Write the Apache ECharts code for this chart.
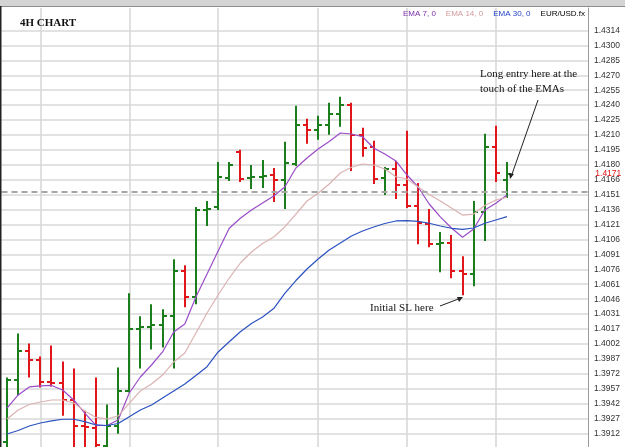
<!DOCTYPE html>
<html>
<head>
<meta charset="utf-8">
<script src="https://cdn.jsdelivr.net/npm/echarts@6/dist/echarts.min.js"></script>
<style>
  html, body { margin: 0; padding: 0; background: #fff; }
  #chart { width: 625px; height: 447px; }
</style>
</head>
<body>
<div id="chart"></div>
<script>
// 4H bars, EUR/USD
var opens  = [1.3904, 1.3966, 1.3994, 1.3985, 1.3964, 1.3963, 1.3946, 1.3920, 1.3918, 1.3900, 1.3920, 1.3955, 1.4016, 1.4018, 1.4020, 1.4029, 1.4074, 1.4048, 1.4135, 1.4138, 1.4167, 1.4193, 1.4167, 1.4168, 1.4170, 1.4165, 1.4181, 1.4220, 1.4215, 1.4220, 1.4231, 1.4240, 1.4210, 1.4198, 1.4167, 1.4176, 1.4160, 1.4139, 1.4121, 1.4101, 1.4102, 1.4074, 1.4071, 1.4133, 1.4198, 1.4165];
var highs  = [1.3967, 1.4011, 1.4001, 1.3988, 1.3999, 1.3983, 1.3976, 1.3934, 1.3967, 1.3940, 1.3977, 1.4051, 1.4028, 1.4040, 1.4035, 1.4085, 1.4079, 1.4137, 1.4143, 1.4182, 1.4182, 1.4194, 1.4179, 1.4184, 1.4176, 1.4202, 1.4238, 1.4225, 1.4228, 1.4241, 1.4247, 1.4241, 1.4216, 1.4203, 1.4177, 1.4183, 1.4213, 1.4161, 1.4135, 1.4112, 1.4109, 1.4088, 1.4143, 1.4210, 1.4218, 1.4182];
var lows   = [1.3894, 1.3951, 1.3969, 1.3959, 1.3960, 1.3931, 1.3894, 1.3894, 1.3891, 1.3891, 1.3913, 1.3954, 1.3978, 1.3997, 1.3999, 1.3978, 1.4039, 1.4042, 1.4120, 1.4136, 1.4165, 1.4164, 1.4157, 1.4158, 1.4144, 1.4137, 1.4180, 1.4202, 1.4206, 1.4211, 1.4219, 1.4175, 1.4189, 1.4162, 1.4151, 1.4147, 1.4138, 1.4102, 1.4099, 1.4074, 1.4068, 1.4051, 1.4060, 1.4105, 1.4164, 1.4148];
var closes = [1.3966, 1.3994, 1.3985, 1.3964, 1.3963, 1.3946, 1.3920, 1.3919, 1.3901, 1.3920, 1.3955, 1.4016, 1.4018, 1.4020, 1.4029, 1.4074, 1.4048, 1.4135, 1.4136, 1.4168, 1.4180, 1.4166, 1.4168, 1.4169, 1.4165, 1.4182, 1.4220, 1.4215, 1.4220, 1.4231, 1.4240, 1.4210, 1.4197, 1.4166, 1.4176, 1.4160, 1.4139, 1.4122, 1.4101, 1.4102, 1.4074, 1.4071, 1.4133, 1.4198, 1.4172, 1.4171];

// moving averages
var ema7  = [1.39376, 1.39506, 1.39586, 1.39596, 1.39601, 1.39556, 1.39456, 1.39326, 1.39202, 1.39202, 1.39257, 1.39526, 1.39685, 1.39805, 1.39935, 1.40134, 1.40214, 1.40483, 1.40712, 1.40942, 1.41168, 1.41268, 1.41350, 1.41420, 1.41490, 1.41580, 1.41769, 1.41869, 1.41958, 1.42033, 1.42118, 1.42108, 1.42081, 1.41968, 1.41909, 1.41839, 1.41699, 1.41580, 1.41410, 1.41281, 1.41171, 1.41078, 1.41161, 1.41350, 1.41417, 1.41500];
var ema14 = [1.39267, 1.39356, 1.39411, 1.39436, 1.39456, 1.39456, 1.39426, 1.39346, 1.39282, 1.39267, 1.39297, 1.39423, 1.39546, 1.39616, 1.39705, 1.39835, 1.39925, 1.40124, 1.40323, 1.40503, 1.40672, 1.40822, 1.40932, 1.41016, 1.41081, 1.41181, 1.41310, 1.41440, 1.41517, 1.41610, 1.41719, 1.41776, 1.41809, 1.41799, 1.41759, 1.41682, 1.41659, 1.41580, 1.41505, 1.41440, 1.41370, 1.41300, 1.41310, 1.41395, 1.41450, 1.41477];
var ema30 = [1.39117, 1.39152, 1.39197, 1.39227, 1.39247, 1.39264, 1.39264, 1.39240, 1.39207, 1.39202, 1.39222, 1.39289, 1.39356, 1.39406, 1.39476, 1.39546, 1.39616, 1.39700, 1.39788, 1.39935, 1.40037, 1.40137, 1.40219, 1.40284, 1.40368, 1.40520, 1.40647, 1.40762, 1.40862, 1.40952, 1.41021, 1.41091, 1.41141, 1.41181, 1.41216, 1.41241, 1.41244, 1.41236, 1.41218, 1.41191, 1.41168, 1.41158, 1.41171, 1.41218, 1.41251, 1.41284];

// price scale labels, bottom to top
var priceTicks = ['1.3912', '1.3927', '1.3942', '1.3957', '1.3972', '1.3987', '1.4002', '1.4017', '1.4031', '1.4046', '1.4061', '1.4076', '1.4091', '1.4106', '1.4121', '1.4136', '1.4151', '1.4166', '1.4180', '1.4195', '1.4210', '1.4225', '1.4240', '1.4255', '1.4270', '1.4285', '1.4300', '1.4314'];

var bidPrice = 1.4171;
var hLinePrice = 1.4153;
var dayStartBars = [3, 11, 19, 28, 36, 44];

// 46 bars + empty space on the right of the chart
var slotCount = 53;
var bars = [];
for (var i = 0; i < slotCount; i++) bars.push('bar' + i);

var ohlc = opens.map(function (o, i) {
  return [i, o, highs[i], lows[i], closes[i]];
});

var myChart = echarts.init(document.getElementById('chart'));

function renderOhlc(params, api) {
  var idx = api.value(0);
  var o = api.coord([idx, api.value(1)]);
  var h = api.coord([idx, api.value(2)]);
  var l = api.coord([idx, api.value(3)]);
  var c = api.coord([idx, api.value(4)]);
  var x = Math.round(h[0]);
  var w = 4;
  var color = api.value(4) >= api.value(1) ? '#1c7d1c' : '#e0161b';
  var st = { stroke: color, lineWidth: 2 };
  return {
    type: 'group',
    children: [
      { type: 'line', shape: { x1: x, y1: h[1] - 1, x2: x, y2: l[1] + 1 }, style: st },
      { type: 'line', shape: { x1: x - w, y1: Math.round(o[1]), x2: x, y2: Math.round(o[1]) }, style: st },
      { type: 'line', shape: { x1: x, y1: Math.round(c[1]), x2: x + w, y2: Math.round(c[1]) }, style: st }
    ]
  };
}

var serif = 'Liberation Serif';
var sans = 'Liberation Sans';

var option = {
  animation: false,
  backgroundColor: '#ffffff',
  title: {
    text: '4H CHART',
    left: 15,
    top: 13,
    textStyle: { fontFamily: serif, fontSize: 11, fontWeight: 'bold', color: '#111' }
  },
  legend: {
    right: 35,
    top: 5,
    itemWidth: 0,
    itemHeight: 0,
    itemGap: 5,
    icon: 'none',
    textStyle: { fontFamily: sans, fontSize: 8 },
    data: [
      { name: 'EMA 7, 0', textStyle: { color: '#7d2fb0' } },
      { name: 'EMA 14, 0', textStyle: { color: '#d39a9a' } },
      { name: 'EMA 30, 0', textStyle: { color: '#1f3fc4' } },
      { name: 'EUR/USD.fx', textStyle: { color: '#000' } }
    ]
  },
  grid: [
    { left: 1.5, right: 34.7, top: 8, bottom: 0 },
    { left: 1.5, right: 37, top: 30.5, bottom: 13.5 }
  ],
  xAxis: [
    {
      type: 'category',
      gridIndex: 0,
      data: bars,
      boundaryGap: true,
      axisLine: { show: false },
      axisTick: { show: false },
      axisLabel: { show: false },
      splitLine: {
        show: true,
        alignWithLabel: true,
        interval: function (idx) { return dayStartBars.indexOf(idx) >= 0; },
        lineStyle: { color: '#d6d6d6', width: 1.5 }
      }
    },
    { type: 'value', gridIndex: 1, show: false, min: 0, max: 1 }
  ],
  yAxis: [
    {
      type: 'value',
      gridIndex: 0,
      position: 'right',
      offset: -2.3,
      min: 1.389874,
      max: 1.433642,
      axisLine: { show: true, lineStyle: { color: '#9a9a9a', width: 1 } },
      axisTick: { show: false },
      axisLabel: { show: false },
      splitLine: { show: false }
    },
    {
      type: 'category',
      gridIndex: 1,
      position: 'right',
      data: priceTicks,
      boundaryGap: false,
      axisLine: { show: false },
      axisTick: { show: false },
      axisLabel: {
        show: true,
        interval: 0,
        margin: 6,
        padding: [5, 0, 0, 0],
        fontFamily: sans,
        fontSize: 8.5,
        color: '#333'
      },
      splitLine: { show: true, interval: 0, lineStyle: { color: '#d9d9d9', width: 1.5 } }
    }
  ],
  series: [
    {
      name: 'EUR/USD.fx',
      type: 'custom',
      xAxisIndex: 0,
      yAxisIndex: 0,
      renderItem: renderOhlc,
      encode: { x: 0, y: [1, 2, 3, 4] },
      data: ohlc,
      z: 3
    },
    {
      name: 'EMA 7, 0', type: 'line', data: ema7, symbol: 'none', z: 4,
      lineStyle: { color: '#9a4cc8', width: 1.2 }, itemStyle: { color: '#9a4cc8' }
    },
    {
      name: 'EMA 14, 0', type: 'line', data: ema14, symbol: 'none', z: 4,
      lineStyle: { color: '#dbb2b2', width: 1.2 }, itemStyle: { color: '#dbb2b2' }
    },
    {
      name: 'EMA 30, 0', type: 'line', data: ema30, symbol: 'none', z: 4,
      lineStyle: { color: '#2b52c0', width: 1.2 }, itemStyle: { color: '#2b52c0' },
      markLine: {
        silent: true,
        symbol: 'none',
        precision: 4,
        animation: false,
        data: [
          { yAxis: hLinePrice, lineStyle: { type: [6, 4], color: '#a6a6a6', width: 2 }, label: { show: false } },
          {
            yAxis: bidPrice, lineStyle: { color: 'rgba(0,0,0,0)', width: 0 },
            label: { show: true, position: 'end', distance: 5, formatter: '1.4171', color: '#e01010', fontFamily: sans, fontSize: 8.5 }
          }
        ]
      }
    }
  ],
  graphic: [
    // window chrome
    { type: 'rect', shape: { x: 0, y: 0, width: 625, height: 6 }, style: { fill: '#d4d4d4' }, z: 10 },
    { type: 'rect', shape: { x: 0, y: 6, width: 625, height: 1 }, style: { fill: '#8c8c8c' }, z: 10 },
    { type: 'rect', shape: { x: 0, y: 6, width: 1.5, height: 441 }, style: { fill: '#222' }, z: 10 },
    // notes
    { type: 'text', left: 480, top: 69, style: { text: 'Long entry here at the', font: '11px "Liberation Serif"', fill: '#111' }, z: 10 },
    { type: 'text', left: 480, top: 84, style: { text: 'touch of the EMAs', font: '11px "Liberation Serif"', fill: '#111' }, z: 10 },
    { type: 'line', shape: { x1: 538, y1: 100, x2: 511, y2: 177 }, style: { stroke: '#222', lineWidth: 1 }, z: 10 },
    { type: 'polygon', shape: { points: [[510, 179], [509, 173], [514, 174]] }, style: { fill: '#222' }, z: 10 },
    { type: 'text', left: 370, top: 303, style: { text: 'Initial SL here', font: '11px "Liberation Serif"', fill: '#111' }, z: 10 },
    { type: 'line', shape: { x1: 440, y1: 306, x2: 461, y2: 298 }, style: { stroke: '#222', lineWidth: 1 }, z: 10 },
    { type: 'polygon', shape: { points: [[463, 297], [457, 297], [459, 302]] }, style: { fill: '#222' }, z: 10 }
  ]
};

myChart.setOption(option);
</script>
</body>
</html>
